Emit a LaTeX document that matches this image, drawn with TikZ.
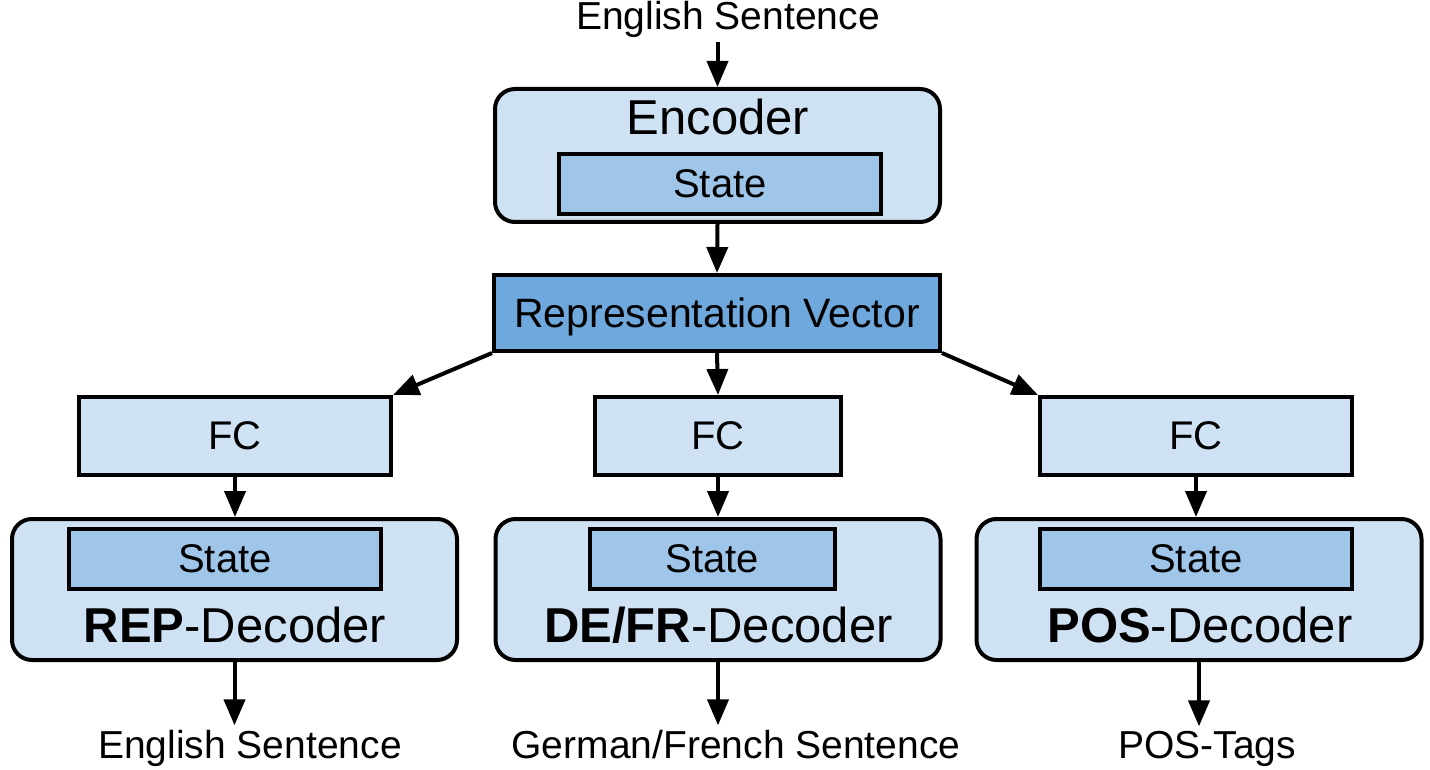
\documentclass[tikz,border=0pt]{standalone}
\usepackage{fontspec}
\setmainfont{Liberation Sans}
\usepackage{xcolor}
\usetikzlibrary{arrows.meta, positioning, calc}

\definecolor{blueL}{HTML}{CFE2F3}
\definecolor{blueM}{HTML}{9FC5E8}
\definecolor{blueD}{HTML}{6FA8DC}

\begin{document}
\begin{tikzpicture}[x=0.5pt, y=-0.5pt,
    coder/.style={rectangle, draw=black, fill=blueL, line width=2pt, rounded corners=10pt, inner sep=0pt, minimum width=222.5pt},
    statebox/.style={rectangle, draw=black, fill=blueM, line width=2pt, inner sep=0pt, minimum height=30pt, font=\fontsize{20}{24}\selectfont, text depth=0pt},
    fcbox/.style={rectangle, draw=black, fill=blueL, line width=2pt, inner sep=0pt, minimum height=39pt, font=\fontsize{20}{24}\selectfont, text depth=0pt},
    repbox/.style={rectangle, draw=black, fill=blueD, line width=2pt, inner sep=0pt, minimum width=223pt, minimum height=38pt, font=\fontsize{20.5}{24}\selectfont, text depth=0pt},
    biglbl/.style={anchor=base, inner sep=0pt, font=\fontsize{24.5}{29}\selectfont},
    seqtxt/.style={anchor=base, inner sep=2pt, font=\fontsize{19.5}{23}\selectfont},
    arr/.style={-{Triangle[length=13pt, width=10.5pt]}, line width=2pt}
]
    \useasboundingbox (0,0) rectangle (1430,770);

    % Top: input sentence and encoder
    \node[seqtxt] (in_txt) at (728, 30) {English Sentence};
    \node[coder, minimum height=66.5pt] (enc) at (717.5, 155.5) {};
    \node[biglbl] (enc_lbl) at (718, 135) {Encoder};
    \node[statebox, minimum width=161pt] (enc_state) at (720, 184) {State};

    \draw[arr] (enc.north |- in_txt.south) -- (enc.north);

    % Middle: shared representation
    \node[repbox] (rep) at (717, 313) {Representation Vector};
    \draw[arr] (enc.south) -- (rep.north);

    % FC layers (left to right)
    \node[fcbox, minimum width=156pt] (fc_rep) at (235, 436) {FC};
    \node[fcbox, minimum width=123pt] (fc_defr) at (718, 436) {FC};
    \node[fcbox, minimum width=156pt] (fc_pos) at (1196, 436) {FC};

    \draw[arr] (rep.south west) -- (fc_rep.north east);
    \draw[arr] (rep.south) -- (fc_defr.north);
    \draw[arr] (rep.south east) -- (fc_pos.north west);

    % Decoders
    \node[coder, minimum height=70.5pt] (dec_rep) at (234.5, 589.5) {};
    \node[statebox, minimum width=156pt] (st_rep) at (225, 559) {State};
    \node[biglbl] (lbl_rep) at (235, 642) {\textbf{REP}-Decoder};

    \node[coder, minimum height=70.5pt] (dec_defr) at (718, 589.5) {};
    \node[statebox, minimum width=122.5pt] (st_defr) at (712.5, 559) {State};
    \node[biglbl] (lbl_defr) at (718.5, 642) {\textbf{DE/FR}-Decoder};

    \node[coder, minimum height=70.5pt] (dec_pos) at (1199, 589.5) {};
    \node[statebox, minimum width=156pt] (st_pos) at (1196, 559) {State};
    \node[biglbl] (lbl_pos) at (1200, 642) {\textbf{POS}-Decoder};

    \draw[arr] (fc_rep.south) -- (fc_rep.south |- dec_rep.north);
    \draw[arr] (fc_defr.south) -- (fc_defr.south |- dec_defr.north);
    \draw[arr] (fc_pos.south) -- (fc_pos.south |- dec_pos.north);

    % Outputs
    \node[seqtxt] (out_rep) at (250, 758) {English Sentence};
    \node[seqtxt] (out_defr) at (736, 758) {German/French Sentence};
    \node[seqtxt] (out_pos) at (1207, 758) {POS-Tags};

    \draw[arr] (dec_rep.south) -- (dec_rep.south |- out_rep.north);
    \draw[arr] (dec_defr.south) -- (dec_defr.south |- out_defr.north);
    \draw[arr] (dec_pos.south) -- (dec_pos.south |- out_pos.north);
\end{tikzpicture}
\end{document}
